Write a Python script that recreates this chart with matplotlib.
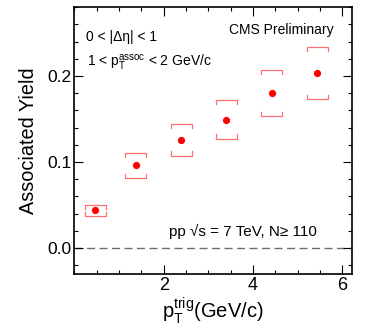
import matplotlib
matplotlib.use('Agg')
import matplotlib.pyplot as plt
from matplotlib.ticker import MultipleLocator, FixedLocator, FormatStrFormatter

plt.rcParams['font.family'] = ['Liberation Sans', 'DejaVu Sans']
plt.rcParams['mathtext.fontset'] = 'custom'
plt.rcParams['mathtext.rm'] = 'Liberation Sans'
plt.rcParams['mathtext.it'] = 'Liberation Sans:italic'
plt.rcParams['mathtext.bf'] = 'Liberation Sans:bold'

# ---- data ----
pt_trig = [0.47, 1.38, 2.39, 3.40, 4.42, 5.44]
yield_vals = [0.0437, 0.0963, 0.1253, 0.1493, 0.1803, 0.2038]
sys_high = [0.0503, 0.1107, 0.1443, 0.1722, 0.2073, 0.2336]
sys_low = [0.0368, 0.0817, 0.1075, 0.1273, 0.1536, 0.1733]
x_ticks = [2, 4, 6]
y_ticks = [0.0, 0.1, 0.2]

fig = plt.figure(figsize=(3.74, 3.35), dpi=100)
ax = fig.add_axes([74.3 / 374, 1 - 273.7 / 335, 277.4 / 374, 267 / 335])

ax.set_xlim(0, 6.21)
ax.set_ylim(-0.03, 0.2807)

# zero line
ax.axhline(0, color='#6e6e6e', lw=1.0, linestyle=(0, (5.8, 3.2)), zorder=1)

# systematic brackets
w = 0.235
d = 0.0048
bcol = '#ff6e6e'
for x, hi, lo in zip(pt_trig, sys_high, sys_low):
    ax.plot([x - w, x - w, x + w, x + w], [hi - d, hi, hi, hi - d],
            color=bcol, lw=0.9, solid_joinstyle='miter', zorder=2)
    ax.plot([x - w, x - w, x + w, x + w], [lo + d, lo, lo, lo + d],
            color=bcol, lw=0.9, solid_joinstyle='miter', zorder=2)

ax.plot(pt_trig, yield_vals, 'o', color='#ff0000', markersize=5.2,
        markeredgewidth=0, zorder=3)

# ticks
ax.xaxis.set_major_locator(FixedLocator(x_ticks))
ax.xaxis.set_minor_locator(MultipleLocator(0.5))
ax.yaxis.set_major_locator(FixedLocator(y_ticks))
ax.yaxis.set_minor_locator(MultipleLocator(0.02))
ax.yaxis.set_major_formatter(FormatStrFormatter('%.1f'))
ax.tick_params(which='both', direction='in', top=True, right=True, width=0.8, color='black')
ax.tick_params(which='major', length=6.5)
ax.tick_params(which='minor', length=3)
ax.tick_params(axis='x', which='major', labelsize=13, pad=2.5)
ax.tick_params(axis='y', which='major', labelsize=12.5, pad=2)
for s in ax.spines.values():
    s.set_linewidth(1.2)

ax.set_ylabel('Associated Yield', fontsize=14.3)
ax.yaxis.set_label_coords(-0.13, 0.5)
ax.set_xlabel(r'$\mathrm{p}_{\mathrm{T}}^{\mathrm{trig}}$(GeV/c)', fontsize=14.5)
ax.xaxis.set_label_coords(0.5, -0.08)

ax.text(0.934, 0.8996, 'CMS Preliminary', transform=ax.transAxes,
        ha='right', va='baseline', fontsize=10)
ax.text(0.042, 0.8727, '0 < |Δη| < 1', transform=ax.transAxes,
        ha='left', va='baseline', fontsize=10)
ax.text(0.044, 0.775, r'1 < $\mathrm{p}_{\mathrm{T}}^{\mathrm{assoc}}$ < 2 GeV/c',
        transform=ax.transAxes, ha='left', va='baseline', fontsize=10)
ax.text(0.343, 0.143, 'pp √s = 7 TeV, N≥ 110', transform=ax.transAxes,
        ha='left', va='baseline', fontsize=11)

fig.savefig('out.png', dpi=100)
